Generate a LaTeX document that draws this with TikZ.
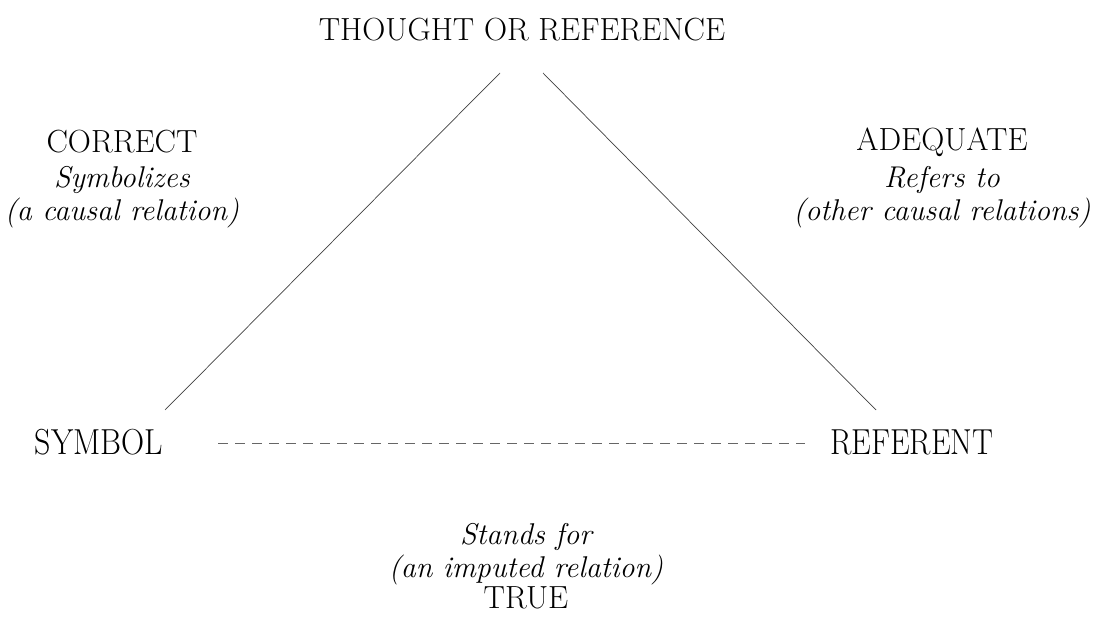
\documentclass[tikz,border=0pt]{standalone}
\usepackage{graphicx}
\begin{document}
\begin{tikzpicture}[x=1pt,y=-1pt,
  lbl/.style={inner sep=0pt,font=\fontsize{32}{38}\selectfont,align=center},
  ital/.style={inner sep=0pt,font=\fontsize{30}{36}\selectfont\itshape,align=center},
  edge/.style={draw=black!75,line width=0.7pt},
  dashedge/.style={draw=black!60,line width=0.7pt,dash pattern=on 10pt off 7pt}]
\useasboundingbox (0,0) rectangle (1093,617);
\node[lbl] (thought) at (522,30) {THOUGHT OR REFERENCE};
\node[lbl] (correct) at (122,142) {CORRECT};
\node[ital] (symbolizes) at (122,180) {Symbolizes};
\node[ital] (causal) at (122,213) {(a causal relation)};
\node[lbl] (adequate) at (942,142) {ADEQUATE};
\node[ital] (refers) at (942,180) {Refers to};
\node[ital] (other) at (942,213) {(other causal relations)};
\node[lbl] (symbol) at (99,442) {\scalebox{1}[1.13]{SYMBOL}};
\node[lbl] (referent) at (912,442) {\scalebox{0.98}[1.13]{REFERENT}};
\node[ital] (stands) at (526,537) {Stands for};
\node[ital] (imputed) at (526,570) {(an imputed relation)};
\node[lbl] (true) at (526,598) {TRUE};
\coordinate (tl) at (500,73);
\coordinate (tr) at (543,73);
\coordinate (bl) at (165,410);
\coordinate (br) at (876,410);
\coordinate (dl) at (218,443);
\coordinate (dr) at (805,443);
\draw[edge] (tl) -- (bl);
\draw[edge] (tr) -- (br);
\draw[dashedge] (dl) -- (dr);
\end{tikzpicture}
\end{document}
